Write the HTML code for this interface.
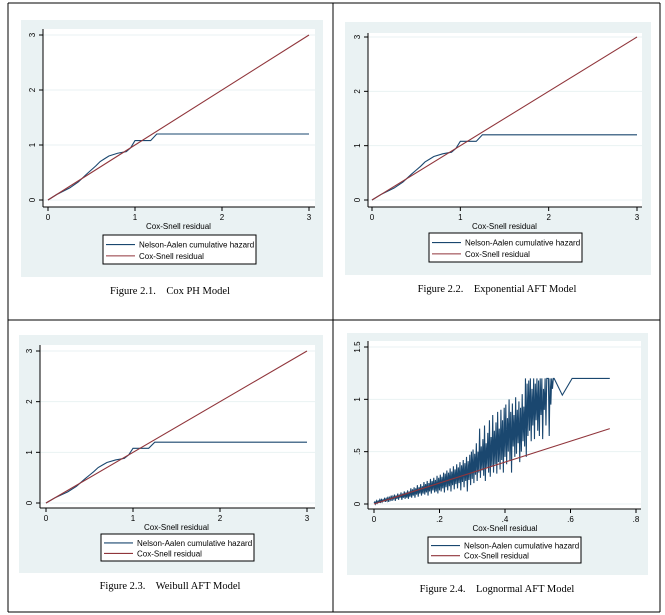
<!DOCTYPE html>
<html><head><meta charset="utf-8">
<style>
html,body{margin:0;padding:0;background:#fff;width:665px;height:615px;overflow:hidden}
svg{display:block}
.tk{font-family:"Liberation Sans",sans-serif;font-size:8px;fill:#000}
.cap{font-family:"Liberation Serif",serif;font-size:10.5px;fill:#000;white-space:pre}
</style></head>
<body>
<svg id="root" width="665" height="615" viewBox="0 0 665 615"></svg>
<script>
// Step Nelson-Aalen cumulative hazard (shared shape in panels 2.1-2.3)
const stepX = [0,0.1,0.25,0.35,0.45,0.5,0.55,0.6,0.65,0.7,0.8,0.9,0.95,1.0,1.18,1.25,3];
const stepY = [0,0.1,0.22,0.33,0.48,0.55,0.62,0.7,0.75,0.8,0.85,0.88,0.95,1.08,1.08,1.2,1.2];
// Cox-Snell reference lines
const refX13 = [0,3];
const refX4 = [0,0.72];
// Lognormal Nelson-Aalen (x step 0.0025 from 0)
const lnY = [0.01,0.02,0.0,0.03,0.01,0.03,0.02,0.04,0.01,0.05,0.02,0.04,0.03,0.06,0.02,0.05,0.03,0.07,0.02,0.06,0.04,0.08,0.03,0.07,0.05,0.09,0.03,0.08,0.05,0.1,0.04,0.09,0.06,0.11,0.04,0.1,0.06,0.12,0.05,0.11,
0.06,0.13,0.05,0.12,0.07,0.15,0.06,0.14,0.08,0.16,0.06,0.15,0.09,0.18,0.07,0.16,0.1,0.19,0.08,0.17,0.1,0.21,0.09,0.19,0.11,0.22,0.08,0.2,0.12,0.24,0.1,0.22,0.13,0.25,0.11,0.23,0.12,0.27,0.1,0.25,
0.13,0.28,0.12,0.26,0.15,0.3,0.11,0.29,0.16,0.32,0.13,0.3,0.17,0.34,0.12,0.31,0.18,0.36,0.14,0.33,0.19,0.38,0.15,0.35,0.2,0.4,0.13,0.37,0.21,0.42,0.16,0.39,0.22,0.45,0.12,0.41,0.23,0.47,0.18,0.5,
0.24,0.52,0.2,0.48,0.28,0.58,0.22,0.5,0.3,0.72,0.25,0.55,0.32,0.62,0.27,0.75,0.22,0.58,0.35,0.68,0.3,0.8,0.26,0.64,0.36,0.85,0.3,0.7,0.38,0.78,0.29,0.88,0.4,0.72,0.33,0.9,0.42,0.8,0.3,0.92,
0.45,0.95,0.38,0.82,0.5,1.0,0.42,0.88,0.3,0.96,0.55,0.85,0.45,1.02,0.48,0.9,0.58,0.98,0.4,0.92,0.5,1.05,0.6,0.93,0.55,1.2,0.45,1.15,0.65,1.18,0.7,1.2,0.6,1.1,0.75,1.2,0.62,1.15,0.8,1.2,
0.7,1.18,0.65,1.2,0.85,1.2,0.62,1.1,0.9,1.2,0.75,1.2,1.2,1.2,0.65,1.2,0.95,1.2,1.1,1.2];
const lnStep = 0.0025;
const lnTailX = [0.55,0.575,0.605,0.72];
const lnTailY = [1.2,1.04,1.2,1.2];
const ticks13 = [0,1,2,3];
const ticks13Lbl = ["0","1","2","3"];
const ticks4x = [0,0.2,0.4,0.6,0.8];
const ticks4xLbl = ["0",".2",".4",".6",".8"];
const ticks4y = [0,0.5,1,1.5];
const ticks4yLbl = ["0",".5","1","1.5"];

const NS="http://www.w3.org/2000/svg";
const root=document.getElementById('root');
function mk(tag,attrs,parent){const e=document.createElementNS(NS,tag);for(const k in attrs)e.setAttribute(k,attrs[k]);(parent||root).appendChild(e);return e;}

const tb=mk('g',{});


[[8,3,660,3],[8,320,660,320],[8,612,660,612],[8,3,8,612],[333,3,333,612],[660,3,660,612]].forEach(l=>mk('line',{x1:l[0],y1:l[1],x2:l[2],y2:l[3],stroke:'#000','stroke-width':1},tb));

const BLUE='#1a476f', RED='#90353b';
function panel(c){
  const g=mk('g',{});
  
  
  mk('rect',{x:c.bg[0],y:c.bg[1],width:c.bg[2]-c.bg[0],height:c.bg[3]-c.bg[1],fill:'#eaf2f3'},g);
  mk('rect',{x:c.pa[0],y:c.pa[1],width:c.pa[2]-c.pa[0],height:c.pa[3]-c.pa[1],fill:'#fff'},g);
  const sx=v=>c.x0+(v-c.xmin)/(c.xmax-c.xmin)*(c.x1-c.x0);
  const sy=v=>c.y0+(v-c.ymin)/(c.ymax-c.ymin)*(c.y1-c.y0);
  c.yt.forEach((t,i)=>{
    mk('line',{x1:c.pa[0],x2:c.pa[2],y1:sy(t),y2:sy(t),stroke:'#eaf2f3','stroke-width':1},g);
    mk('line',{x1:c.pa[0]-4,x2:c.pa[0],y1:sy(t),y2:sy(t),stroke:'#000','stroke-width':1},g);
    const tx=mk('text',{class:'tk',x:c.pa[0]-8,y:sy(t),'text-anchor':'middle',transform:`rotate(-90 ${c.pa[0]-8} ${sy(t)})`},g);
    
    
    tx.textContent=c.ytl[i];
  });
  c.xt.forEach((t,i)=>{
    mk('line',{x1:sx(t),x2:sx(t),y1:c.pa[3],y2:c.pa[3]+4,stroke:'#000','stroke-width':1},g);
    const tx=mk('text',{class:'tk',x:sx(t),y:c.pa[3]+13,'text-anchor':'middle'},g);
    
    
    tx.textContent=c.xtl[i];
  });
  mk('line',{x1:c.pa[0],x2:c.pa[0],y1:c.pa[1],y2:c.pa[3],stroke:'#000'},g);
  mk('line',{x1:c.pa[0],x2:c.pa[2],y1:c.pa[3],y2:c.pa[3],stroke:'#000'},g);
  const xl=mk('text',{class:'tk',x:(c.x0+c.x1)/2,y:c.pa[3]+22,'text-anchor':'middle'},g);
  
  
  xl.textContent='Cox-Snell residual';
  const na=mk('polyline',{points:c.nx.map((x,i)=>sx(x)+','+sy(c.ny[i])).join(' '),fill:'none',stroke:BLUE,'stroke-width':1.1},g);
  
  
  const rf=mk('polyline',{points:c.rx.map(x=>sx(x)+','+sy(x)).join(' '),fill:'none',stroke:RED,'stroke-width':1.1},g);
  
  
  const L=c.lg;
  const lg=mk('g',{},g);
  
  
  mk('rect',{x:L[0],y:L[1],width:L[2]-L[0],height:L[3]-L[1],fill:'#fff',stroke:'#000','stroke-width':1},lg);
  const h=(L[3]-L[1]);
  [[BLUE,'Nelson-Aalen cumulative hazard',0.33],[RED,'Cox-Snell residual',0.72]].forEach(e=>{
    const yy=L[1]+h*e[2];
    mk('line',{x1:L[0]+3,x2:L[0]+32,y1:yy,y2:yy,stroke:e[0],'stroke-width':1.1},lg);
    const t=mk('text',{class:'tk',x:L[0]+36,y:yy+3},lg);
    
    
    t.textContent=e[1];
  });
  const cp=mk('text',{class:'cap',x:c.cap[0],y:c.cap[1],'text-anchor':'middle'},g);
  
  
  cp.textContent=c.capt;
}
const lnX=lnY.map((_,i)=>i*lnStep).concat(lnTailX);
const lnYall=lnY.concat(lnTailY);
panel({name:'cox-ph-panel',bg:[21,20,323,277],pa:[43,29,315,207],x0:48,x1:309,xmin:0,xmax:3,y0:200,y1:35,ymin:0,ymax:3,
  xt:ticks13,xtl:ticks13Lbl,yt:ticks13,ytl:ticks13Lbl,nx:stepX,ny:stepY,rx:refX13,lg:[103,235,256,264],cap:[170,294],capt:'Figure 2.1.    Cox PH Model'});
panel({name:'exponential-aft-panel',bg:[345,22,651,275],pa:[368,33,642,207],x0:372,x1:637,xmin:0,xmax:3,y0:200,y1:37,ymin:0,ymax:3,
  xt:ticks13,xtl:ticks13Lbl,yt:ticks13,ytl:ticks13Lbl,nx:stepX,ny:stepY,rx:refX13,lg:[429,233,582,262],cap:[497,292],capt:'Figure 2.2.    Exponential AFT Model'});
panel({name:'weibull-aft-panel',bg:[19,335,323,573],pa:[40,345,315,508],x0:46,x1:307,xmin:0,xmax:3,y0:503,y1:351,ymin:0,ymax:3,
  xt:ticks13,xtl:ticks13Lbl,yt:ticks13,ytl:ticks13Lbl,nx:stepX,ny:stepY,rx:refX13,lg:[101,534,254,561],cap:[170,589],capt:'Figure 2.3.    Weibull AFT Model'});
panel({name:'lognormal-aft-panel',bg:[347,333,648,575],pa:[368,341,641,509],x0:374,x1:636,xmin:0,xmax:0.8,y0:504,y1:347,ymin:0,ymax:1.5,
  xt:ticks4x,xtl:ticks4xLbl,yt:ticks4y,ytl:ticks4yLbl,nx:lnX,ny:lnYall,rx:refX4,lg:[428,537,581,563],cap:[497,592],capt:'Figure 2.4.    Lognormal AFT Model'});
</script>
</body></html>
